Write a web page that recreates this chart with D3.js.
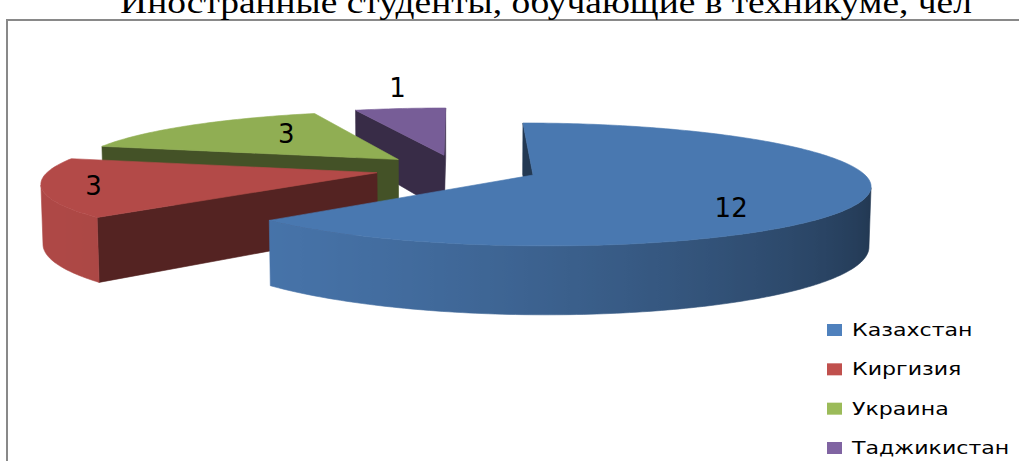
<!DOCTYPE html>
<html>
<head>
<meta charset="utf-8">
<script src="https://cdn.jsdelivr.net/npm/d3@7"></script>
<style>
  html, body { margin: 0; padding: 0; background: #ffffff; }
  svg { display: block; }
</style>
</head>
<body>
<svg id="chart" width="1019" height="461"></svg>
<script>
// ---------------- data ----------------
const titleText = "Иностранные студенты, обучающие в техникуме, чел";
const categories = ["Казахстан", "Киргизия", "Украина", "Таджикистан"];
const values = [12, 3, 3, 1];
const seriesColors = ["#4F81BD", "#C0504D", "#9BBB59", "#8064A2"];

// ---------------- layout / style config ----------------
const W = 1019, H = 461;
const cam = {              // simple perspective camera looking down on the pie
  phi: Math.asin(0.178),   // elevation
  dist: 6.54,              // camera distance in pie radii
  focal: 2139,             // focal length in px
  cx: 457, cy: 169.1       // screen position of pie centre
};
const explode = 0.25;      // slice explosion (fraction of radius)
const thickness = 0.181;   // pie height (fraction of radius)
const labelPlace = [       // data label placement: fraction along slice, radius fraction
  { f: 0.585, r: 0.73 },
  { f: 0.50,  r: 0.85 },
  { f: 0.66,  r: 0.63 },
  { f: 0.63,  r: 1.55 }
];

const svg = d3.select("#chart");
const defs = svg.append("defs");
const color = d3.scaleOrdinal().domain(categories).range(seriesColors);

// ---------------- projection ----------------
const sinP = Math.sin(cam.phi), cosP = Math.cos(cam.phi);
function project(X, Y, Z) {
  const depth = cam.dist - Y * sinP - Z * cosP;
  return [cam.cx + cam.focal * X / depth, cam.cy + cam.focal * (Z * sinP - Y * cosP) / depth];
}
const camPos = [0, cam.dist * sinP, cam.dist * cosP];

function shade(hex, k) {
  const c = d3.rgb(hex);
  return d3.rgb(Math.min(255, c.r * k), Math.min(255, c.g * k), Math.min(255, c.b * k)).formatHex();
}
// side lighting (light from front-left)
function sideShade(theta) {
  const nx = Math.sin(theta), nz = -Math.cos(theta);
  return 0.64 + (-0.2405 * nx + 0.1127 * nz);
}

// ---------------- frame & title ----------------
svg.append("path")
  .attr("d", `M7,${H + 5} L7,20 L${W + 5},20`)
  .attr("fill", "none").attr("stroke", "#898989").attr("stroke-width", 2);

const title = svg.append("text")
  .attr("font-family", "'Liberation Serif', 'Times New Roman', serif")
  .attr("font-size", 32)
  .attr("fill", "#000")
  .attr("text-anchor", "middle")
  .text(titleText);
const tw = title.node().getComputedTextLength();
const titleScale = 852 / tw;
title.attr("transform", `translate(546,13) scale(${titleScale},1)`);

// ---------------- pie geometry ----------------
const pie = d3.pie().sort(null).value(d => d)
  .startAngle(0).endAngle(2 * Math.PI);
const arcs = pie(values).map((a, i) => {
  const mid = (a.startAngle + a.endAngle) / 2;
  return {
    i, a0: a.startAngle, a1: a.endAngle, mid,
    ox: explode * Math.sin(mid), oz: -explode * Math.cos(mid),
    value: values[i], name: categories[i]
  };
});

// draw farthest slices first
arcs.forEach(s => { s.depth = cam.dist - s.oz * cosP; });
const order = arcs.slice().sort((p, q) => q.depth - p.depth);

const line = d3.line();
const gPie = svg.append("g");

order.forEach(s => {
  const base = color(s.name);
  const g = gPie.append("g");
  const n = Math.max(8, Math.ceil((s.a1 - s.a0) / (Math.PI / 180)));
  const thetas = d3.range(n + 1).map(k => s.a0 + (s.a1 - s.a0) * k / n);
  const P = (r, t, y) => project(s.ox + r * Math.sin(t), y, s.oz - r * Math.cos(t));

  // radial faces
  const radial = (t, sign) => {
    const nx = sign * Math.cos(t), nz = sign * Math.sin(t);
    const mx = s.ox + 0.5 * Math.sin(t), mz = s.oz - 0.5 * Math.cos(t);
    const dot = nx * (camPos[0] - mx) + nz * (camPos[2] - mz);
    if (dot <= 0) return;
    const pts = [P(0, t, 0), P(1, t, 0), P(1, t, -thickness), P(0, t, -thickness)];
    const col = shade(base, 0.44);
    g.append("path").attr("d", line(pts) + "Z")
      .attr("fill", col).attr("stroke", col).attr("stroke-width", 0.6);
  };
  radial(s.a0, -1);
  radial(s.a1, 1);

  // outer curved side (visible runs)
  const vis = thetas.map(t => {
    const X = s.ox + Math.sin(t), Z = s.oz - Math.cos(t);
    return Math.sin(t) * (camPos[0] - X) - Math.cos(t) * (camPos[2] - Z) > 0;
  });
  let runs = [], cur = null;
  thetas.forEach((t, k) => {
    if (vis[k]) { if (!cur) { cur = []; runs.push(cur); } cur.push(t); }
    else cur = null;
  });
  runs.forEach((run, ri) => {
    if (run.length < 2) return;
    const top = run.map(t => P(1, t, 0));
    const bot = run.map(t => P(1, t, -thickness)).reverse();
    const xs = top.map(p => p[0]);
    const x0 = d3.min(xs), x1 = d3.max(xs);
    const gid = `side-${s.i}-${ri}`;
    const grad = defs.append("linearGradient").attr("id", gid)
      .attr("gradientUnits", "userSpaceOnUse")
      .attr("x1", x0).attr("x2", x1).attr("y1", 0).attr("y2", 0);
    const stops = run.map((t, k) => ({ o: (xs[k] - x0) / Math.max(1e-6, x1 - x0), c: shade(base, sideShade(t)) }))
      .sort((p, q) => p.o - q.o);
    grad.selectAll("stop").data(stops).join("stop")
      .attr("offset", d => d.o).attr("stop-color", d => d.c);
    g.append("path").attr("d", line(top.concat(bot)) + "Z")
      .attr("fill", `url(#${gid})`).attr("stroke", `url(#${gid})`).attr("stroke-width", 0.6);
  });

  // top face
  const topPts = [P(0, s.a0, 0)].concat(thetas.map(t => P(1, t, 0)));
  const tc = shade(base, 0.93);
  g.append("path").attr("d", line(topPts) + "Z")
    .attr("fill", tc).attr("stroke", tc).attr("stroke-width", 0.6);
});

// ---------------- data labels ----------------
const labelSize = 26;
svg.append("g").selectAll("text").data(arcs).join("text")
  .attr("font-family", "'DejaVu Sans', sans-serif")
  .attr("font-size", labelSize)
  .attr("fill", "#000")
  .attr("text-anchor", "middle")
  .attr("transform", d => {
    const lp = labelPlace[d.i];
    const t = d.a0 + (d.a1 - d.a0) * lp.f;
    const p = project(d.ox + lp.r * Math.sin(t), 0, d.oz - lp.r * Math.cos(t));
    return `translate(${p[0]},${p[1] + 0.36 * labelSize})`;
  })
  .text(d => d.value);

// ---------------- legend ----------------
const legendY = d3.scalePoint().domain(categories).range([330, 448]);
const leg = svg.append("g").selectAll("g").data(categories).join("g")
  .attr("transform", d => `translate(827,${legendY(d)})`);
leg.append("rect").attr("x", 0).attr("y", -6).attr("width", 15).attr("height", 12)
  .attr("fill", d => color(d));
leg.append("text")
  .attr("font-family", "'DejaVu Sans', sans-serif")
  .attr("font-size", 17)
  .attr("fill", "#000")
  .attr("transform", "translate(25,6) scale(1.3,1)")
  .text(d => d);
</script>
</body>
</html>
